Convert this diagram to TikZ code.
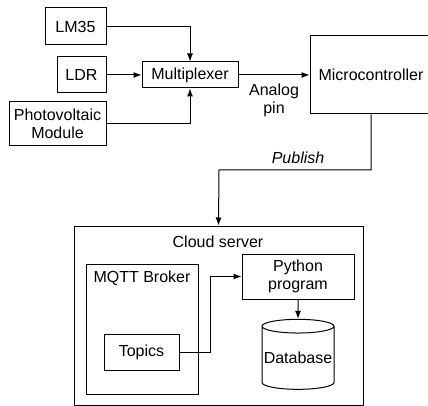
\documentclass[tikz,border=0pt]{standalone}
\usepackage{fontspec}
\setmainfont{Liberation Sans}
\usepackage{tikz}
\usetikzlibrary{positioning,arrows.meta,shapes.geometric}

\begin{document}
\begin{tikzpicture}[x=1pt,y=-1pt,line width=1pt,font=\fontsize{16}{18}\selectfont]
	\tikzset{blk/.style={draw,inner sep=0pt,align=center},
		>={Latex[length=8pt,width=6pt]}}
	\clip (0,0) rectangle (428,406);
	\useasboundingbox (0,0) rectangle (428,406);

	%% sensors and multiplexer
	\node[blk,minimum width=61,minimum height=37] (lm35) at (75.5,26.5) {LM35};
	\node[blk,minimum width=49,minimum height=36] (ldr) at (81.5,75) {LDR};
	\node[blk,minimum width=97,minimum height=44] (pv) at (57.5,124) {Photovoltaic\\Module};
	\node[blk,minimum width=96,minimum height=26] (mux) at (190,75) {Multiplexer};
	\node[blk,minimum width=122,minimum height=78] (mcu) at (371,75) {Microcontroller};

	%% cloud side
	\node[blk,minimum width=289,minimum height=179] (cloud) at (218.5,315.5) {};
	\node (cloudlbl) at (218,242) {Cloud server};
	\node[blk,minimum width=112,minimum height=130] (broker) at (142,329) {};
	\node (brokerlbl) at (142,278) {MQTT Broker};
	\node[blk,minimum width=75,minimum height=36] (topics) at (141.5,352) {Topics};
	\node[blk,minimum width=112,minimum height=45] (python) at (298,276.5) {Python\\program};
	\node[draw,cylinder,shape border rotate=90,aspect=0.2,inner sep=0pt,
		minimum width=72,minimum height=70] (db) at (298,358) {Database};

	\coordinate (pub) at (219,170);
	\coordinate (tp) at (210,352);

	\path[->]
		(ldr) edge node {} (mux)
		(mux) edge node[below=5pt,align=center] (pin) {Analog\\pin} (mcu)
		(python) edge node {} (db);
	\draw[->] (lm35.east) -| (mux.north);
	\draw[->] (pv.east) -| (mux.south);
	\draw[->] (mcu.south) |- (pub) node[pos=0.74,above=3pt] (publbl) {\itshape Publish} -- (cloud.north);
	\draw[->] (topics.east) -- (tp) |- (python.west);
\end{tikzpicture}
\end{document}
